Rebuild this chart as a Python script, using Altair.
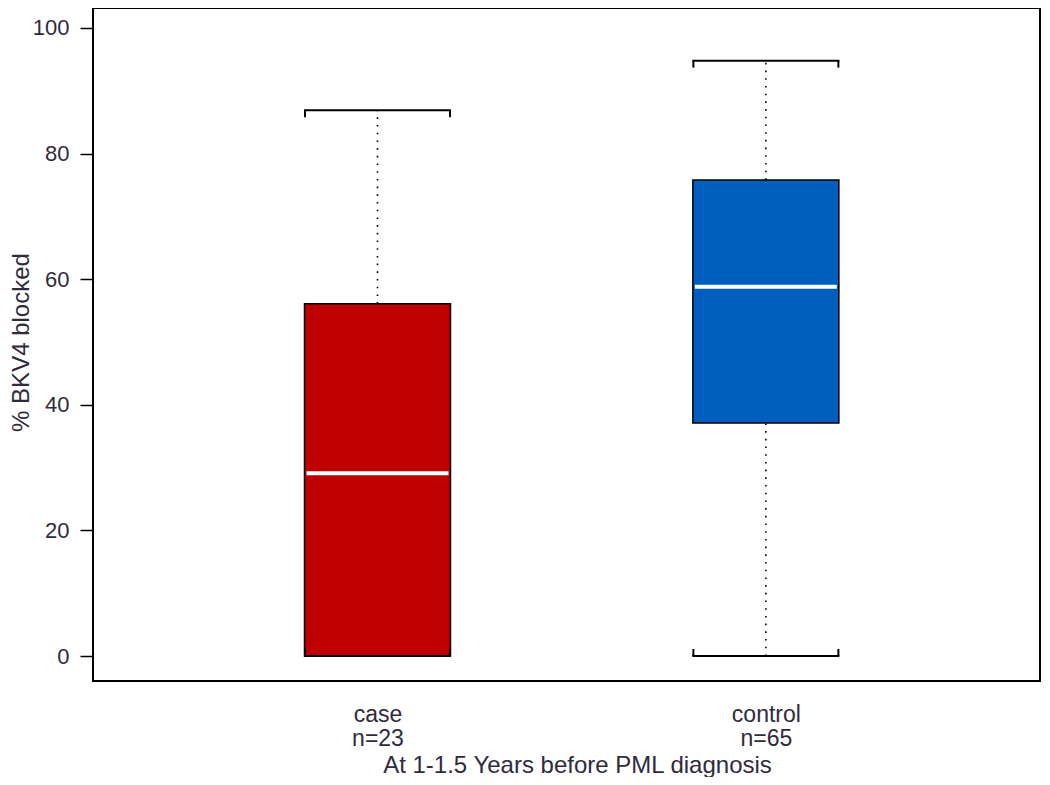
import altair as alt
import pandas as pd

# ---- data ----
groups = ["case", "control"]
counts = [23, 65]
positions = [1, 2]
whisker_low = [0.0, 0.0]
q1 = [0.0, 37.1]
median = [29.1, 58.8]
q3 = [56.1, 75.8]
whisker_high = [86.9, 94.8]
fill_colors = ["#C00000", "#005EBE"]
y_ticks = [0, 20, 40, 60, 80, 100]

df = pd.DataFrame(dict(group=groups, n=counts, pos=positions, lo=whisker_low,
                       q1=q1, med=median, q3=q3, hi=whisker_high))

FONT = "Liberation Sans"
TXT = "#2f2b3d"

label_expr = " : ".join(
    f"datum.value == {p} ? ['{g}', 'n={c}']" for p, g, c in zip(positions[:-1], groups[:-1], counts[:-1])
) + f" : ['{groups[-1]}', 'n={counts[-1]}']"

xscale = alt.Scale(domain=[0.2803, 2.693], nice=False, zero=False)
yscale = alt.Scale(domain=[-3.98, 103.18], nice=False, zero=False)

xaxis = alt.Axis(values=positions, labelExpr=label_expr, ticks=False, domain=False, grid=False,
                 labelFontSize=23, labelPadding=22, labelLineHeight=24, labelFlush=False,
                 labelOverlap=False, labelBound=False, titleFontSize=24, titleY=91,
                 titleBaseline="alphabetic", titleX=484, titleAlign="center")
yaxis = alt.Axis(values=y_ticks, tickSize=13, tickWidth=1.5, tickColor="black", domain=False,
                 grid=False, labelFontSize=22, labelPadding=11, labelFlush=False,
                 titleFontSize=24, titleAngle=-90, titleX=-65, titleY=334,
                 titleAlign="center", titleBaseline="alphabetic")

XT = "At 1-1.5 Years before PML diagnosis"
YT = "% BKV4 blocked"


def X():
    return alt.X("pos:Q", scale=xscale, axis=xaxis, title=XT)


def Y(field):
    return alt.Y(f"{field}:Q", scale=yscale, axis=yaxis, title=YT)


base = alt.Chart(df)

upper_dots = base.mark_rule(color="black", strokeWidth=1.6, strokeDash=[1.6, 6.1]).encode(
    x=X(), y=Y("q3"), y2="hi:Q")
lower_dots = base.mark_rule(color="black", strokeWidth=1.6, strokeDash=[1.6, 6.1]).encode(
    x=X(), y=Y("lo"), y2="q1:Q")

boxes = base.mark_bar(size=146, stroke="black", strokeWidth=1.5, opacity=1).encode(
    x=X(), y=Y("q1"), y2="q3:Q",
    color=alt.Color("group:N", scale=alt.Scale(domain=groups, range=fill_colors), legend=None))

med = base.mark_tick(orient="horizontal", size=142, thickness=4, color="white", opacity=1).encode(
    x=X(), y=Y("med"))

cap_hi = base.mark_tick(orient="horizontal", size=147, thickness=2, color="black", opacity=1).encode(
    x=X(), y=Y("hi"))
cap_lo = base.mark_tick(orient="horizontal", size=147, thickness=2, color="black", opacity=1).encode(
    x=X(), y=Y("lo"))

ends = []
for xo in (-72.5, 72.5):
    ends.append(base.mark_tick(orient="vertical", size=7, thickness=2, color="black", opacity=1,
                               xOffset=xo, yOffset=3.5).encode(x=X(), y=Y("hi")))
    ends.append(base.mark_tick(orient="vertical", size=7, thickness=2, color="black", opacity=1,
                               xOffset=xo, yOffset=-3.5).encode(x=X(), y=Y("lo")))

chart = alt.layer(upper_dots, lower_dots, boxes, med, cap_hi, cap_lo, *ends).properties(
    width=947, height=673,
    autosize=alt.AutoSizeParams(type="none"),
    padding={"left": 85, "top": 0, "right": 2, "bottom": 96},
).configure_view(stroke="black", strokeWidth=2).configure_axis(
    labelFont=FONT, titleFont=FONT, labelColor=TXT, titleColor=TXT, titleFontWeight="normal"
)

chart.save("out.html", embed_options={"renderer": "svg", "actions": False})
